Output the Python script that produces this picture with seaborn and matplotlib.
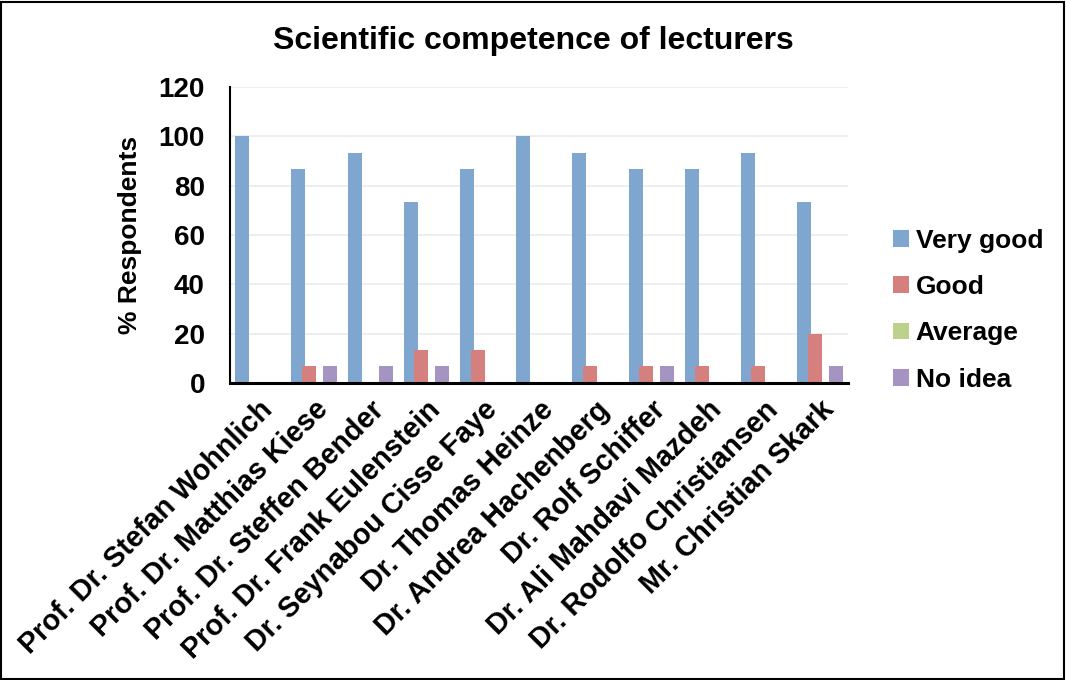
import numpy as np
import pandas as pd
import matplotlib
matplotlib.use("Agg")
from matplotlib import pyplot as plt
from matplotlib.patches import Rectangle
import seaborn as sns

lecturers = [
    "Prof. Dr. Stefan Wohnlich",
    "Prof. Dr. Matthias Kiese",
    "Prof. Dr. Steffen Bender",
    "Prof. Dr. Frank Eulenstein",
    "Dr. Seynabou Cisse Faye",
    "Dr. Thomas Heinze",
    "Dr. Andrea Hachenberg",
    "Dr. Rolf Schiffer",
    "Dr. Ali Mahdavi Mazdeh",
    "Dr. Rodolfo Christiansen",
    "Mr. Christian Skark",
]
ratings = ["Very good", "Good", "Average", "No idea"]
very_good = [100, 86.7, 93.3, 73.3, 86.7, 100, 93.3, 86.7, 86.7, 93.3, 73.3]
good = [0, 6.7, 0, 13.3, 13.3, 0, 6.7, 6.7, 6.7, 6.7, 20]
average = [0, 0, 0, 0, 0, 0, 0, 0, 0, 0, 0]
no_idea = [0, 6.7, 6.7, 6.7, 0, 0, 0, 6.7, 0, 0, 6.7]
colors = ["#7EA6CF", "#D57F7F", "#BCD18B", "#A593C2"]

df = pd.DataFrame({
    "Lecturer": lecturers * 4,
    "Rating": np.repeat(ratings, len(lecturers)),
    "Value": very_good + good + average + no_idea,
})

sns.set_theme(style="white")
plt.rcParams["font.family"] = ["Liberation Sans", "DejaVu Sans"]
plt.rcParams["font.weight"] = "bold"
for key in ["text.color", "axes.labelcolor", "xtick.color", "ytick.color"]:
    plt.rcParams[key] = "black"

fig = plt.figure(figsize=(10.66, 6.8), dpi=100)
ax = fig.add_axes([230 / 1066, 1 - 383 / 680, 618 / 1066, 296 / 680])

sns.barplot(data=df, x="Lecturer", y="Value", hue="Rating", hue_order=ratings,
            order=lecturers, palette=colors, width=0.75, ax=ax, saturation=1,
            errorbar=None)

# widen bars so that neighbouring series overlap a little
for p in ax.patches:
    cx = p.get_x() + p.get_width() / 2
    p.set_width(0.25)
    p.set_x(cx - 0.125)
    p.set_edgecolor("none")

ax.set_xlim(-0.5, len(lecturers) - 0.5)
ax.set_ylim(0, 120)
ax.set_yticks(range(0, 121, 20))
ax.yaxis.grid(True, color="#EBEBEB", linewidth=1.2)
ax.set_axisbelow(True)
ax.tick_params(axis="y", length=0, labelsize=20, pad=18)
ax.tick_params(axis="x", length=0, labelsize=20.7, pad=9)
for lbl in ax.get_yticklabels():
    lbl.set_fontweight("bold")
ax.set_xticks(range(len(lecturers)))
ax.set_xticklabels(lecturers, rotation=45, ha="right", rotation_mode="anchor",
                   fontweight="bold")
for s in ["top", "right"]:
    ax.spines[s].set_visible(False)
ax.spines["left"].set_color("black")
ax.spines["left"].set_linewidth(1.5)
ax.spines["bottom"].set_color("black")
ax.spines["bottom"].set_linewidth(2.2)
ax.set_xlabel("")
ax.set_ylabel("% Respondents", fontsize=19, fontweight="bold", labelpad=12)

fig.suptitle("Scientific competence of lecturers", x=533 / 1066, y=1 - 41 / 680,
             fontsize=23, fontweight="bold", va="center")

handles, labels = ax.get_legend_handles_labels()
ax.legend(handles, labels, loc="center left", bbox_to_anchor=(1.035, 0.246),
          frameon=False, handlelength=0.6, handleheight=0.6,
          handletextpad=0.25, labelspacing=0.85, prop={"weight": "bold", "size": 19})

fig.add_artist(Rectangle((0.001, 0.002), 0.997, 0.995, transform=fig.transFigure,
                         fill=False, edgecolor="black", linewidth=1.5))

fig.savefig("out.png", dpi=100)
